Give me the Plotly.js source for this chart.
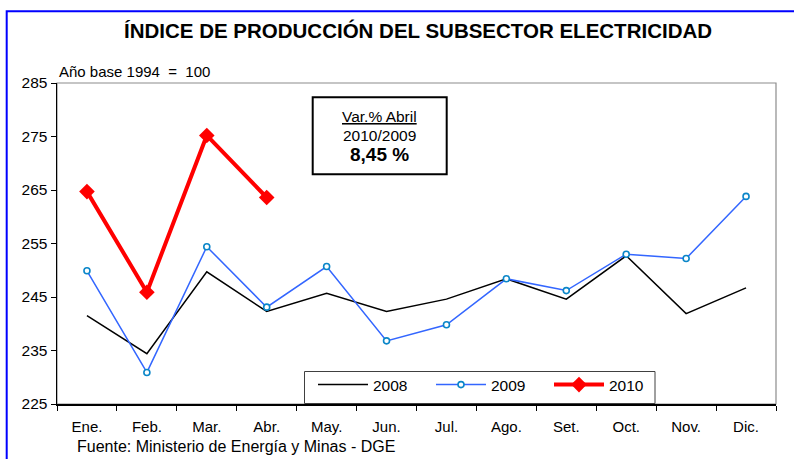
<!DOCTYPE html>
<html>
<head>
<meta charset="utf-8">
<script src="https://cdn.plot.ly/plotly-3.0.1.min.js"></script>
<style>html,body{margin:0;padding:0;background:#fff;}#chart{width:794px;height:459px;}</style>
</head>
<body>
<div id="chart"></div>
<script>
const months = ["Ene.", "Feb.", "Mar.", "Abr.", "May.", "Jun.", "Jul.", "Ago.", "Set.", "Oct.", "Nov.", "Dic."];
const values2008 = [241.5, 234.4, 249.7, 242.3, 245.7, 242.3, 244.6, 248.4, 244.6, 252.7, 241.9, 246.7];
const values2009 = [249.9, 230.9, 254.4, 243.1, 250.7, 236.8, 239.8, 248.4, 246.2, 253.0, 252.2, 263.8];
const months2010 = ["Ene.", "Feb.", "Mar.", "Abr."];
const values2010 = [264.7, 245.9, 275.2, 263.6];
const yTicks = [225, 235, 245, 255, 265, 275, 285];

const FONT = "Arial, 'Liberation Sans', sans-serif";
const NARROW = "'Liberation Sans Narrow', 'Arial Narrow', Arial, 'Liberation Sans', sans-serif";

const traces = [
  {x: months, y: values2008, name: "2008", type: "scatter", mode: "lines",
   line: {color: "#000000", width: 1.5}},
  {x: months, y: values2009, name: "2009", type: "scatter", mode: "lines+markers",
   line: {color: "#3366ff", width: 1.5},
   marker: {symbol: "circle", size: 6, color: "#ffffff", line: {color: "#0a86c8", width: 1.6}}},
  {x: months2010, y: values2010, name: "2010", type: "scatter", mode: "lines+markers",
   line: {color: "#ff0000", width: 4},
   marker: {symbol: "diamond", size: 12, color: "#ff0000"}}
];

// pixel -> paper helpers (plot area 57..776 x 83..404)
const L = 57, R = 776, T = 83, B = 404;
const px = v => (v - L) / (R - L);
const py = v => (B - v) / (B - T);

const layout = {
  width: 794, height: 459,
  margin: {l: L, r: 794 - R, t: T, b: 459 - B},
  paper_bgcolor: "#ffffff", plot_bgcolor: "#ffffff",
  font: {family: FONT, size: 15, color: "#000000"},
  showlegend: true,
  title: {text: "<b>ÍNDICE DE PRODUCCIÓN DEL SUBSECTOR ELECTRICIDAD</b>",
          font: {family: NARROW, size: 20.5, color: "#000000"},
          x: 418 / 794, xanchor: "center", xref: "container",
          y: 1 - 31 / 459, yanchor: "middle", yref: "container"},
  xaxis: {type: "category", categoryorder: "array", categoryarray: months,
          range: [-0.5, 11.5], showgrid: false, zeroline: false,
          showline: true, linecolor: "#000000", linewidth: 1.5,
          ticks: "outside", tickson: "boundaries", ticklen: 5, tickcolor: "#000000", tickwidth: 1,
          ticklabelstandoff: 8,
          tickfont: {family: FONT, size: 15, color: "#000000"}},
  yaxis: {range: [225, 285], tickvals: yTicks, ticktext: yTicks.map(String),
          showgrid: false, zeroline: false,
          showline: true, linecolor: "#000000", linewidth: 1.5,
          ticks: "outside", ticklen: 5, tickcolor: "#000000", tickwidth: 1,
          tickfont: {family: FONT, size: 15.5, color: "#000000"}},
  legend: {orientation: "h", x: px(313), y: py(385), xanchor: "left", yanchor: "middle",
           bgcolor: "rgba(0,0,0,0)", borderwidth: 0,
           font: {family: FONT, size: 15.5, color: "#000000"},
           itemwidth: 50, entrywidth: 53, entrywidthmode: "pixels", tracegroupgap: 0},
  shapes: [
    {type: "rect", xref: "paper", yref: "paper", x0: 0, x1: 1, y0: 0, y1: 1,
     line: {color: "#8c8c8c", width: 1.2}, layer: "below"},
    {type: "rect", xref: "paper", yref: "paper",
     x0: px(304.5), x1: px(655), y0: py(403.5), y1: py(371.5),
     line: {color: "#404040", width: 1}, fillcolor: "#ffffff", layer: "above"},
    {type: "rect", xref: "paper", yref: "paper",
     x0: px(312.7), x1: px(446.7), y0: py(174.3), y1: py(97.3),
     line: {color: "#000000", width: 2}, fillcolor: "#ffffff", layer: "above"},
    {type: "rect", xref: "paper", yref: "paper",
     x0: px(6.7), x1: px(820), y0: py(480), y1: py(11.2),
     line: {color: "#0000ff", width: 2}, layer: "above"}
  ],
  annotations: [
    {text: "Año base 1994  =  100", xref: "paper", yref: "paper", x: 0, y: py(71),
     xanchor: "left", yanchor: "middle", showarrow: false,
     font: {family: NARROW, size: 15, color: "#000000"}},
    {text: "<u>Var.% Abril</u>", xref: "paper", yref: "paper", x: px(379.7), y: py(116.7),
     xanchor: "center", yanchor: "middle", showarrow: false,
     font: {family: FONT, size: 15.5, color: "#000000"}},
    {text: "2010/2009", xref: "paper", yref: "paper", x: px(379.7), y: py(135.7),
     xanchor: "center", yanchor: "middle", showarrow: false,
     font: {family: FONT, size: 15.5, color: "#000000"}},
    {text: "<b>8,45 %</b>", xref: "paper", yref: "paper", x: px(379.7), y: py(154.3),
     xanchor: "center", yanchor: "middle", showarrow: false,
     font: {family: FONT, size: 19, color: "#000000"}},
    {text: "Fuente: Ministerio de Energía y Minas - DGE", xref: "paper", yref: "paper",
     x: px(75), y: py(447), xanchor: "left", yanchor: "middle", showarrow: false,
     font: {family: FONT, size: 16, color: "#000000"}}
  ]
};

Plotly.newPlot("chart", traces, layout, {staticPlot: true, displayModeBar: false});
</script>
</body>
</html>
